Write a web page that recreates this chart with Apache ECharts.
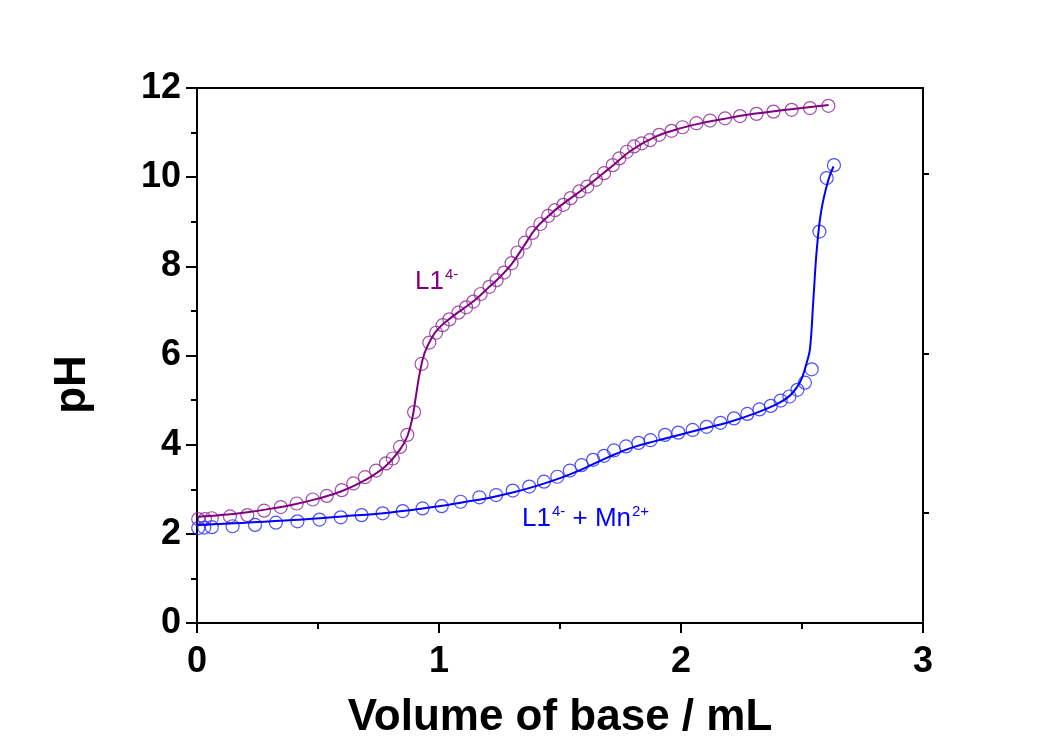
<!DOCTYPE html>
<html>
<head>
<meta charset="utf-8">
<script src="https://cdn.jsdelivr.net/npm/echarts@6/dist/echarts.min.js"></script>
<style>html,body{margin:0;padding:0;background:#fff;}#c{width:1058px;height:740px;}</style>
</head>
<body>
<div id="c"></div>
<script>
// Measured points: L1(4-) titration
var l1X = [0.005,0.033,0.061,0.136,0.208,0.277,0.346,0.412,0.478,0.536,0.598,0.646,0.694,0.740,0.781,0.809,0.839,0.869,0.897,0.928,0.960,0.988,1.015,1.043,1.080,1.112,1.142,1.172,1.208,1.238,1.269,1.300,1.324,1.355,1.386,1.419,1.451,1.479,1.514,1.544,1.580,1.613,1.649,1.682,1.718,1.745,1.776,1.806,1.838,1.872,1.910,1.961,2.006,2.064,2.120,2.182,2.244,2.312,2.382,2.457,2.533,2.609];
var l1Y = [2.33,2.33,2.35,2.39,2.42,2.52,2.60,2.68,2.77,2.85,2.98,3.13,3.27,3.42,3.58,3.69,3.95,4.22,4.73,5.81,6.29,6.51,6.68,6.81,6.96,7.08,7.21,7.38,7.54,7.69,7.86,8.07,8.31,8.53,8.75,8.95,9.13,9.26,9.38,9.53,9.68,9.79,9.94,10.09,10.27,10.42,10.57,10.69,10.76,10.83,10.95,11.04,11.12,11.21,11.27,11.32,11.37,11.42,11.47,11.51,11.55,11.60];
// Fitted curve: L1(4-)
var l1FitX = [0,0.1,0.2,0.3,0.4,0.5,0.6,0.7,0.78,0.84,0.87,0.89,0.905,0.92,0.94,0.97,1.0,1.05,1.1,1.15,1.2,1.25,1.3,1.35,1.4,1.45,1.5,1.6,1.7,1.8,1.9,2.0,2.1,2.2,2.3,2.4,2.5,2.61];
var l1FitY = [2.38,2.42,2.48,2.56,2.66,2.79,2.96,3.22,3.52,3.9,4.2,4.6,5.1,5.6,6.05,6.4,6.62,6.85,7.05,7.25,7.5,7.75,8.05,8.45,8.85,9.12,9.35,9.75,10.18,10.62,10.92,11.1,11.23,11.33,11.42,11.49,11.55,11.62];
// Measured points: L1(4-) + Mn(2+)
var mnX = [0.005,0.030,0.061,0.147,0.240,0.326,0.415,0.506,0.594,0.680,0.767,0.850,0.932,1.011,1.089,1.167,1.236,1.305,1.373,1.434,1.489,1.541,1.589,1.637,1.682,1.723,1.773,1.824,1.874,1.934,1.989,2.048,2.106,2.163,2.219,2.274,2.324,2.371,2.412,2.448,2.481,2.512,2.540,2.572,2.602,2.632];
var mnY = [2.13,2.14,2.15,2.17,2.20,2.25,2.28,2.32,2.37,2.42,2.46,2.51,2.57,2.62,2.72,2.82,2.87,2.97,3.06,3.17,3.28,3.42,3.54,3.66,3.75,3.87,3.96,4.04,4.10,4.22,4.27,4.33,4.40,4.49,4.59,4.69,4.79,4.87,4.99,5.08,5.23,5.39,5.69,8.78,9.98,10.27];
// Fitted curve: L1(4-) + Mn(2+)
var mnFitX = [0,0.2,0.4,0.6,0.8,1.0,1.1,1.2,1.3,1.4,1.5,1.6,1.7,1.8,1.9,2.0,2.1,2.2,2.3,2.4,2.45,2.48,2.5,2.52,2.533,2.547,2.561,2.58,2.609,2.63];
var mnFitY = [2.2,2.25,2.31,2.39,2.48,2.62,2.71,2.8,2.92,3.07,3.25,3.47,3.72,3.94,4.09,4.23,4.37,4.51,4.69,4.92,5.1,5.3,5.5,5.85,6.15,7.25,8.37,9.26,9.94,10.24];
// Axis ticks
var xTicks = [0,1,2,3];
var yTicks = [0,2,4,6,8,10,12];
var rightTicks = [2.47,6.05,10.08];

function zip(a,b){return a.map(function(v,i){return [v,b[i]];});}

var chart = echarts.init(document.getElementById('c'));
var FONT = '"Liberation Sans", Arial, sans-serif';
var PURPLE = '#800080', PURPLE_PT = '#93309a';
var BLUE = '#0000ff', BLUE_PT = '#3030ff';

var axLine = {show:true, onZero:false, lineStyle:{color:'#000', width:2}};
chart.setOption({
  backgroundColor:'#fff',
  animation:false,
  grid:{left:197, right:135, top:88, bottom:117, containLabel:false, outerBoundsMode:'none'},
  xAxis:[{
    type:'value', min:xTicks[0], max:xTicks[xTicks.length-1], interval:1,
    position:'bottom',
    axisLine:axLine,
    axisTick:{show:true, inside:false, length:10, lineStyle:{color:'#000', width:2}},
    minorTick:{show:true, splitNumber:2, length:6, lineStyle:{color:'#000', width:2}},
    splitLine:{show:false},
    axisLabel:{color:'#000', fontFamily:FONT, fontWeight:'bold', fontSize:36, margin:21},
    name:'Volume of base / mL', nameLocation:'middle', nameGap:73,
    nameTextStyle:{color:'#000', fontFamily:FONT, fontWeight:'bold', fontSize:44}
  },{
    type:'value', min:0, max:3, position:'top',
    axisLine:axLine, axisTick:{show:false}, axisLabel:{show:false}, splitLine:{show:false}
  }],
  yAxis:[{
    type:'value', min:yTicks[0], max:yTicks[yTicks.length-1], interval:2,
    position:'left',
    axisLine:axLine,
    axisTick:{show:true, inside:false, length:11, lineStyle:{color:'#000', width:2}},
    minorTick:{show:true, splitNumber:2, length:6, lineStyle:{color:'#000', width:2}},
    splitLine:{show:false},
    axisLabel:{color:'#000', fontFamily:FONT, fontWeight:'bold', fontSize:36, margin:16},
    name:'pH', nameLocation:'middle', nameGap:102, nameRotate:90,
    nameTextStyle:{color:'#000', fontFamily:FONT, fontWeight:'bold', fontSize:44, padding:[0,58,0,0]}
  },{
    type:'value', min:0, max:12, position:'right',
    axisLine:axLine,
    axisTick:{show:true, inside:false, length:6, customValues:rightTicks, lineStyle:{color:'#000', width:2}},
    axisLabel:{show:false}, splitLine:{show:false}
  }],
  series:[
    {type:'line', name:'L1 fit', data:zip(l1FitX,l1FitY), smooth:0.4, showSymbol:false, symbol:'none',
     lineStyle:{color:PURPLE, width:2}, z:3},
    {type:'scatter', name:'L1', data:zip(l1X,l1Y), symbol:'circle', symbolSize:13,
     itemStyle:{color:'rgba(0,0,0,0)', borderColor:PURPLE_PT, borderWidth:1.2, opacity:0.85}, z:2},
    {type:'line', name:'Mn fit', data:zip(mnFitX,mnFitY), smooth:0.4, showSymbol:false, symbol:'none',
     lineStyle:{color:BLUE, width:2}, z:3},
    {type:'scatter', name:'Mn', data:zip(mnX,mnY), symbol:'circle', symbolSize:13,
     itemStyle:{color:'rgba(0,0,0,0)', borderColor:BLUE_PT, borderWidth:1.2, opacity:0.85}, z:2}
  ],
  graphic:[
    {type:'text', left:415, top:267, style:{
      text:'{b|L1}{s|4-}', fill:PURPLE,
      rich:{b:{fontSize:26, fontFamily:FONT, fill:PURPLE, verticalAlign:'bottom'},
            s:{fontSize:15, fontFamily:FONT, fill:PURPLE, verticalAlign:'bottom', padding:[0,0,13,1]}}
    }},
    {type:'text', left:522, top:504, style:{
      text:'{b|L1}{s|4-}{b| + Mn}{s|2+}', fill:BLUE,
      rich:{b:{fontSize:26, fontFamily:FONT, fill:BLUE, verticalAlign:'bottom'},
            s:{fontSize:15, fontFamily:FONT, fill:BLUE, verticalAlign:'bottom', padding:[0,0,13,1]}}
    }}
  ]
});
</script>
</body>
</html>
